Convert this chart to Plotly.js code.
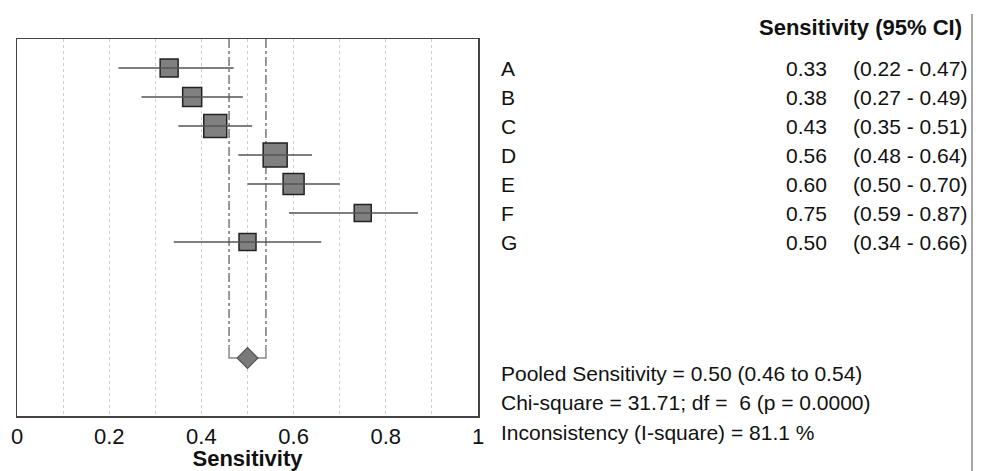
<!DOCTYPE html>
<html>
<head>
<meta charset="utf-8">
<script src="https://cdn.plot.ly/plotly-3.0.1.min.js"></script>
<style>html,body{margin:0;padding:0;background:#fff;}#chart{width:981px;height:471px;}</style>
</head>
<body>
<div id="chart"></div>
<script>
// ---- data ----
const studies = ["A", "B", "C", "D", "E", "F", "G"];
const sensitivity = [0.33, 0.38, 0.43, 0.56, 0.60, 0.75, 0.50];
const ciLow = [0.22, 0.27, 0.35, 0.48, 0.50, 0.59, 0.34];
const ciHigh = [0.47, 0.49, 0.51, 0.64, 0.70, 0.87, 0.66];
const weights = [11.5, 12.9, 18.8, 20.5, 15.7, 10.3, 10.3];
const pooledEstimate = [0.50];
const pooledLow = [0.46];
const pooledHigh = [0.54];
const tickValues = [0, 0.2, 0.4, 0.6, 0.8, 1];
const tickLabels = ["0", "0.2", "0.4", "0.6", "0.8", "1"];
const headerText = "Sensitivity (95% CI)";
const summaryLines = [
  "Pooled Sensitivity = 0.50 (0.46 to 0.54)",
  "Chi-square = 31.71; df =  6 (p = 0.0000)",
  "Inconsistency (I-square) = 81.1 %"
];

// ---- layout helpers ----
const W = 981, H = 471;
const M = {l: 17, r: 503, t: 39, b: 55};
const plotW = W - M.l - M.r, plotH = H - M.t - M.b;
const px = x => (x - M.l) / plotW;
const py = y => (H - M.b - y) / plotH;
const FONT = "Liberation Sans, Arial, sans-serif";

const rows = studies.map((s, i) => i);
const pooledRow = 10;
const topY = -1, bottomY = 12;

const sizeFromWeight = w => Math.sqrt(w * 28.1);

const traces = [];
// pooled CI dashed vertical lines
traces.push({
  x: [pooledLow[0], pooledLow[0], null, pooledHigh[0], pooledHigh[0]],
  y: [topY, pooledRow - 0.4, null, topY, pooledRow - 0.4],
  mode: "lines", line: {color: "#777", width: 1.5, dash: "dashdot"},
  hoverinfo: "skip", showlegend: false
});
// pooled bracket
traces.push({
  x: [pooledLow[0], pooledLow[0], pooledHigh[0], pooledHigh[0]],
  y: [pooledRow - 0.4, pooledRow, pooledRow, pooledRow - 0.4],
  mode: "lines", line: {color: "#888", width: 1.5},
  hoverinfo: "skip", showlegend: false
});
// squares
traces.push({
  x: sensitivity, y: rows, mode: "markers", type: "scatter",
  marker: {symbol: "square", size: weights.map(sizeFromWeight), color: "#808080", opacity: 1,
           line: {color: "#222", width: 1.5}},
  showlegend: false
});
// CI lines on top
traces.push({
  x: sensitivity, y: rows, mode: "markers", type: "scatter",
  marker: {size: 1, opacity: 0},
  error_x: {type: "data", symmetric: false,
            array: sensitivity.map((v, i) => ciHigh[i] - v),
            arrayminus: sensitivity.map((v, i) => v - ciLow[i]),
            color: "#555", thickness: 1.5, width: 0},
  showlegend: false
});
// pooled diamond
traces.push({
  x: pooledEstimate, y: [pooledRow], mode: "markers",
  marker: {symbol: "diamond", size: 16, color: "#7a7a7a", opacity: 1, line: {color: "#555", width: 1.2}},
  showlegend: false
});

const annotations = [];
const tf = {family: FONT, size: 21, color: "#111"};
studies.forEach((s, i) => {
  annotations.push({xref: "paper", yref: "y", x: px(499), y: rows[i], text: s,
    showarrow: false, xanchor: "left", yanchor: "middle", font: tf});
  annotations.push({xref: "paper", yref: "y", x: px(829), y: rows[i], text: sensitivity[i].toFixed(2),
    showarrow: false, xanchor: "right", yanchor: "middle", font: tf});
  annotations.push({xref: "paper", yref: "y", x: px(851), y: rows[i],
    text: "(" + ciLow[i].toFixed(2) + " - " + ciHigh[i].toFixed(2) + ")",
    showarrow: false, xanchor: "left", yanchor: "middle", font: tf});
});
annotations.push({xref: "paper", yref: "paper", x: px(964), y: py(27), text: "<b>" + headerText + "</b>",
  showarrow: false, xanchor: "right", yanchor: "middle", font: {family: FONT, size: 22, color: "#111"}});
const summaryY = [373, 402, 432];
summaryLines.forEach((t, i) => {
  annotations.push({xref: "paper", yref: "paper", x: px(499), y: py(summaryY[i]), text: t,
    showarrow: false, xanchor: "left", yanchor: "middle", font: tf});
});

const layout = {
  width: W, height: H,
  margin: M,
  paper_bgcolor: "#fff", plot_bgcolor: "#fff",
  font: {family: FONT, size: 21, color: "#111"},
  xaxis: {
    range: [0, 1], tickvals: tickValues, ticktext: tickLabels,
    showgrid: true, gridcolor: "#cfcfcf", griddash: "dot", gridwidth: 1,
    minor: {dtick: 0.1, showgrid: true, gridcolor: "#cfcfcf", griddash: "dot", gridwidth: 1},
    showline: true, mirror: true, linecolor: "#444", linewidth: 1.5,
    zeroline: false, ticks: "", ticklen: 0, ticklabelstandoff: 0,
    tickfont: {family: FONT, size: 22, color: "#111"},
    title: {text: "<b>Sensitivity</b>", font: {family: FONT, size: 22, color: "#111"}, standoff: 2},
    fixedrange: true
  },
  yaxis: {
    range: [bottomY, topY], showticklabels: false, showgrid: false, zeroline: false,
    showline: true, mirror: true, linecolor: "#444", linewidth: 1.5, ticks: "", fixedrange: true
  },
  shapes: [{type: "line", xref: "paper", yref: "paper", x0: px(972), x1: px(972), y0: py(14), y1: py(471),
    line: {color: "#888", width: 1.5}}],
  annotations: annotations
};

Plotly.newPlot("chart", traces, layout, {displayModeBar: false, staticPlot: true});
</script>
</body>
</html>
